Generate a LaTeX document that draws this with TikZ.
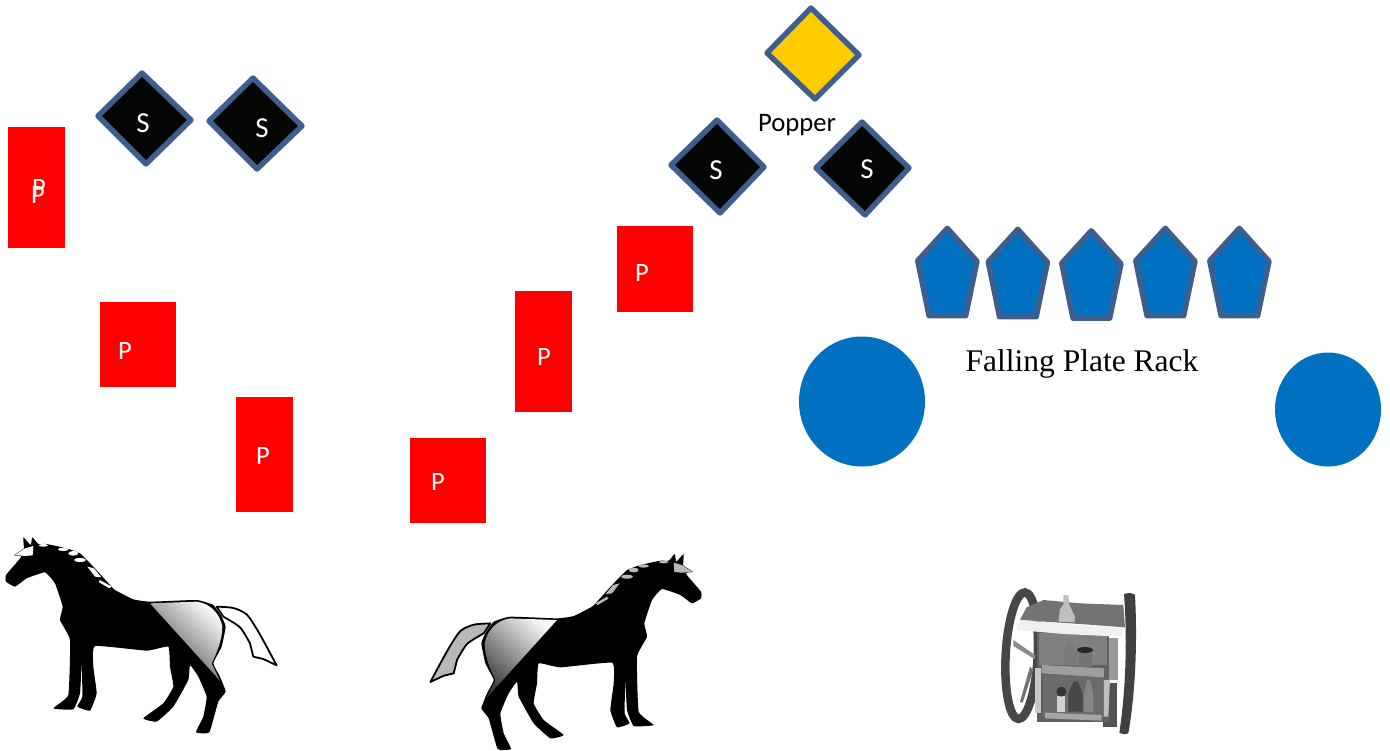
\documentclass[tikz,border=0pt]{standalone}
\usepackage{fontspec}
\setmainfont{Carlito}
\newfontfamily\rackfont{Liberation Serif}
\definecolor{plateblue}{HTML}{0070C0}
\definecolor{edgeblue}{HTML}{3E5F8E}
\definecolor{popyellow}{HTML}{FFCC00}
\tikzset{
  redbox/.style={fill=red,draw=none},
  ptext/.style={text=white,font=\fontsize{26.5}{26.5}\selectfont,inner sep=0pt},
  stext/.style={text=white,font=\fontsize{29}{29}\selectfont,inner sep=0pt},
  blacktext/.style={text=black,font=\fontsize{26.7}{26.7}\selectfont,inner sep=0pt},
  targetedge/.style={draw=edgeblue,line width=5.4pt,line join=round},
  steeldia/.style={targetedge,fill=black!98},
  popdia/.style={targetedge,fill=popyellow},
  platepent/.style={targetedge,fill=plateblue},
  bigdisc/.style={fill=plateblue,draw=none},
  horsebody/.style={fill=black,draw=none},
}
\newcommand{\horsefig}[4]{%
  \begin{scope}[shift={(#1,#2)},xscale=#3,yscale=0.3333]
    % tail
    \draw[fill=#4,draw=black,line width=1.8pt,line join=round]
      plot[smooth,tension=0.45] coordinates {(650,260)(700,264)(740,283)(772,330)(800,380)(830,436)}
      -- (790,417) -- (760,410)
      -- plot[smooth,tension=0.45] coordinates {(750,370)(720,322)(670,290)} -- cycle;
    % forelock
    \draw[fill=#4,draw=black,line width=0.8pt] (45,105) -- (75,85) -- (100,76) -- (100,106) -- (75,108) -- cycle;
    % body
    \fill[horsebody] plot[smooth cycle,tension=0.22] coordinates {
      (18,165)(58,118)(72,92)(70,52)(92,75)(97,52)(115,72)(140,72)(200,85)(240,100)(280,140)
      (330,195)(345,210)(400,238)(450,245)(590,240)(640,255)(665,290)(677,320)(665,380)(640,430)
      (660,470)(677,515)(655,545)(628,637)(588,637)(610,590)(620,530)(595,470)(570,435)(565,480)
      (520,560)(470,605)(430,595)(490,550)(520,500)(510,440)(505,380)(440,392)(285,378)(280,440)
      (290,520)(270,572)(232,560)(247,530)(245,430)(240,520)(220,568)(160,565)(205,525)(210,360)
      (180,300)(188,260)(165,190)(135,157)(80,175)(45,200)(18,185)};
    % shaded rump
    \shade[left color=black!4,middle color=black!45,right color=black!75,shading angle=-42]
      (450,250) -- (590,245)
      .. controls (630,250) and (660,280) .. (667,320)
      .. controls (667,360) and (650,400) .. (635,430)
      -- (660,482) -- cycle;
    % forelock and mane
    \fill[#4] (45,105) -- (75,85) -- (100,78) -- (98,106) -- (75,108) -- cycle;
    \fill[#4] (130,76) ellipse [x radius=14,y radius=4];
    \fill[#4] (190,88) ellipse [x radius=16,y radius=5];
    \fill[#4] (220,100) ellipse [x radius=15,y radius=7];
    \fill[#4] (240,120) ellipse [x radius=18,y radius=6];
    \fill[#4] (262,140) -- (282,145) -- (304,172) -- (285,170) -- cycle;
    \fill[#4] (300,180) -- (335,200) -- (328,205) -- (296,186) -- cycle;
  \end{scope}}
\begin{document}
\begin{tikzpicture}[x=1pt,y=-1pt]
\useasboundingbox (0,0) rectangle (1390,750);
\fill[white] (0,0) rectangle (1390,750);

% red paper targets
\fill[redbox] (8,127) rectangle (65,248);
\fill[redbox] (100,302) rectangle (176,387);
\fill[redbox] (236,397) rectangle (293,512);
\fill[redbox] (617,226) rectangle (693,312);
\fill[redbox] (515,291) rectangle (572,412);
\fill[redbox] (410,438) rectangle (486,523);
\node[ptext] (p1a) at (39,188) {P};
\node[ptext] (p1b) at (38,195) {P};
\node[ptext] (p2) at (125,351) {P};
\node[ptext] (p3) at (263,456) {P};
\node[ptext] (p4) at (642,273) {P};
\node[ptext] (p5) at (544,357) {P};
\node[ptext] (p6) at (438,482) {P};

% steel diamonds
\draw[steeldia] (142,73) -- (191,120) -- (146,164) -- (98,116) -- cycle;
\draw[steeldia] (253,78) -- (302,126) -- (257,169) -- (209,121) -- cycle;
\draw[steeldia] (717,120) -- (764,167) -- (720,213) -- (671,165) -- cycle;
\draw[steeldia] (862,122) -- (909,168) -- (865,215) -- (816,168) -- cycle;
\draw[popdia] (811,8) -- (859,55) -- (815,99) -- (767,53) -- cycle;
\node[stext] (s1) at (143,123) {S};
\node[stext] (s2) at (262,128) {S};
\node[stext] (s3) at (716,170) {S};
\node[stext] (s4) at (867,169) {S};
\node[blacktext] (popper) at (797,125) {Popper};

% falling plates
\foreach \dx/\dy in {0/0,70.5/1,144/2.5,218/0,292/0}{
  \draw[platepent,shift={(\dx,\dy)}] (947.3,228.3) -- (977,261.3) -- (965.7,315.7) -- (929,315.7) -- (917.7,260.7) -- cycle;
}
\node[text=black,font=\rackfont\fontsize{31.5}{31.5}\selectfont,inner sep=0pt] (rack) at (1082,364) {Falling Plate Rack};
\fill[bigdisc] (862,401.5) ellipse [x radius=63,y radius=65];
\fill[bigdisc] (1328,409.5) ellipse [x radius=53,y radius=57];

% horses
\horsefig{0}{520}{0.3333}{white}
\horsefig{707}{536.7}{-0.3333}{black!28}

% cart
\begin{scope}[shift={(980,570)},scale=0.3333]
  % left wheel
  \draw[black!72,line width=8.5pt,rotate around={-3:(125,257)}] (125,257) ellipse [x radius=48,y radius=190];
  \fill[black!45] (100,210) -- (165,255) -- (165,268) -- (100,228) -- cycle;
  \fill[black!55] (150,290) -- (120,395) -- (128,398) -- (160,300) -- cycle;
  % right wheel
  \fill[black!75] (432,72) .. controls (445,68) and (458,68) .. (465,75)
    .. controls (472,200) and (468,360) .. (445,490)
    .. controls (435,494) and (425,494) .. (418,488)
    .. controls (438,360) and (442,200) .. (432,72) -- cycle;
  % back scenery
  \fill[black!40] (385,205) rectangle (415,330);
  \fill[black!68] (368,340) rectangle (412,470);
  % cabinet
  \fill[black!62] (172,185) rectangle (388,455);
  \fill[black!50] (178,190) rectangle (382,285);
  \fill[black!58] (190,315) rectangle (372,440);
  \fill[black!38] (185,285) -- (372,295) -- (372,322) -- (185,310) -- cycle;
  \fill[black!35] (195,428) -- (365,435) -- (365,452) -- (195,445) -- cycle;
  \fill[black!22] (165,295) rectangle (182,430);
  \fill[black!25] (372,330) -- (390,330) -- (385,440) -- (372,440) -- cycle;
  % roof
  \fill[black!55] (120,150) -- (140,112) -- (190,90) -- (300,100) -- (430,105) -- (435,172) -- (300,162) -- cycle;
  \fill[black!6] (110,168) -- (125,150) -- (300,165) -- (432,175) -- (425,200) -- (250,192) -- (112,180) -- cycle;
  % bottles on shelves
  \fill[black!52] (250,285) -- (250,250) -- (262,218) -- (278,218) -- (292,250) -- (292,288) -- cycle;
  \fill[black!55] (298,250) rectangle (335,290);
  \fill[black!85] (315,240) ellipse [x radius=24,y radius=9];
  \fill[black!18] (232,378) rectangle (256,425);
  \fill[black!80] (244,365) ellipse [x radius=15,y radius=15];
  \fill[black!72] (265,425) -- (265,370) -- (280,335) -- (295,335) -- (308,372) -- (308,425) -- cycle;
  \fill[black!48] (312,425) -- (312,370) -- (322,330) -- (330,330) -- (340,370) -- (340,428) -- cycle;
  % bottle on the roof
  \fill[black!25] (235,155) -- (240,118) -- (250,105) -- (250,75) -- (265,75) -- (268,105) -- (285,140) -- (283,157) -- cycle;
\end{scope}
\end{tikzpicture}
\end{document}
